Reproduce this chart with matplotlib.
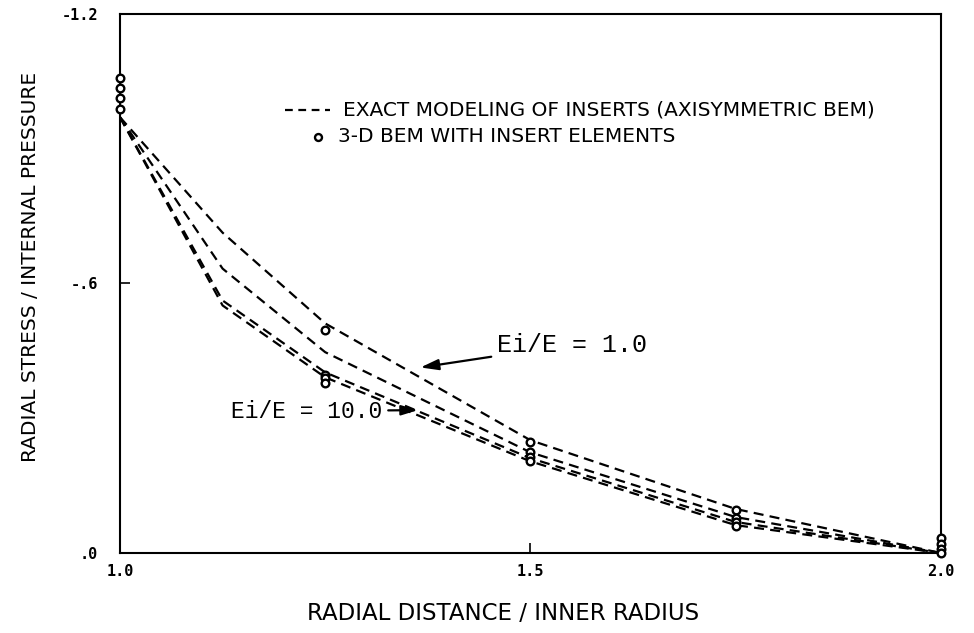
import matplotlib
matplotlib.use("Agg")
import matplotlib.pyplot as plt

# Radial positions of the solution nodes (r / inner radius)
r_nodes = [1.0, 1.125, 1.25, 1.5, 1.75, 2.0]

# Exact (axisymmetric BEM) radial stress / internal pressure, one list per Ei/E
exact_ei_1 = [-0.970, -0.713, -0.511, -0.251, -0.098, 0.0]
exact_ei_2 = [-0.970, -0.633, -0.447, -0.224, -0.080, 0.0]
exact_ei_5 = [-0.970, -0.562, -0.402, -0.211, -0.069, 0.0]
exact_ei_10 = [-0.970, -0.551, -0.391, -0.204, -0.062, 0.0]

# 3-D BEM with insert elements
bem_r = [1.0, 1.25, 1.5, 1.75, 2.0]
bem_ei_1 = [-0.989, -0.497, -0.247, -0.096, -0.033]
bem_ei_2 = [-1.013, -0.396, -0.224, -0.078, -0.020]
bem_ei_5 = [-1.036, -0.389, -0.213, -0.068, -0.009]
bem_ei_10 = [-1.058, -0.379, -0.204, -0.060, 0.0]

x_ticks = [1.0, 1.5, 2.0]
x_tick_labels = ["1.0", "1.5", "2.0"]
y_ticks = [-1.2, -0.6, 0.0]
y_tick_labels = ["-1.2", "-.6", ".0"]

fig = plt.figure(figsize=(9.74, 6.33), dpi=100)
ax = fig.add_axes([0.1232, 0.1264, 0.8428, 0.8516])

dash = (0, (4.5, 2.8))
for ys in (exact_ei_1, exact_ei_2, exact_ei_5, exact_ei_10):
    ax.plot(r_nodes, ys, color="black", lw=1.6, linestyle=dash, clip_on=False)

for ys in (bem_ei_1, bem_ei_2, bem_ei_5, bem_ei_10):
    ax.plot(bem_r, ys, linestyle="none", marker="o", markersize=5.5,
            markerfacecolor="white", markeredgecolor="black",
            markeredgewidth=1.7, clip_on=False, zorder=5)

ax.set_xlim(1.0, 2.0)
ax.set_ylim(0.0, -1.2)

for s in ax.spines.values():
    s.set_linewidth(1.5)

mono = "DejaVu Sans Mono"
ax.set_xticks(x_ticks)
ax.set_xticklabels(x_tick_labels, family=mono, fontweight="bold", fontsize=11)
ax.set_yticks(y_ticks)
ax.set_yticklabels(y_tick_labels, family=mono, fontweight="bold", fontsize=11)
ax.tick_params(axis="both", direction="in", length=7, width=1.2)
ax.tick_params(axis="y", pad=16)
ax.tick_params(axis="x", pad=8)

ax.set_ylabel("RADIAL STRESS / INTERNAL PRESSURE", family="DejaVu Sans",
              fontsize=14.5)
ax.yaxis.set_label_coords(-0.098, 0.53)
ax.set_xlabel("RADIAL DISTANCE / INNER RADIUS", family="DejaVu Sans",
              fontsize=16.5)
ax.xaxis.set_label_coords(0.4665, -0.090)

# Legend keys and entries
legend_font = dict(family="DejaVu Sans", fontsize=14.5)
ax.plot([0.201, 0.256], [0.822, 0.822], transform=ax.transAxes, color="black",
        lw=1.6, linestyle=(0, (3.5, 2.5)))
ax.text(0.272, 0.822, "EXACT MODELING OF INSERTS (AXISYMMETRIC BEM)",
        transform=ax.transAxes, ha="left", va="center", **legend_font)
ax.plot([0.241], [0.772], transform=ax.transAxes, marker="o", markersize=5,
        markerfacecolor="white", markeredgecolor="black", markeredgewidth=1.7)
ax.text(0.266, 0.772, "3-D BEM WITH INSERT ELEMENTS",
        transform=ax.transAxes, ha="left", va="center", **legend_font)

arrow = dict(arrowstyle="-|>,head_length=0.6,head_width=0.18", color="black",
             lw=1.6, shrinkA=2, shrinkB=0)
ax.annotate("Ei/E = 1.0", xy=(1.366, -0.413), xytext=(1.459, -0.464),
            ha="left", va="center", family="Liberation Mono", fontsize=18,
            arrowprops=arrow)
ax.annotate("Ei/E = 10.0", xy=(1.363, -0.318), xytext=(1.320, -0.316),
            ha="right", va="center", family="Liberation Mono", fontsize=16.5,
            arrowprops=arrow)

fig.savefig("out.png", dpi=100)
